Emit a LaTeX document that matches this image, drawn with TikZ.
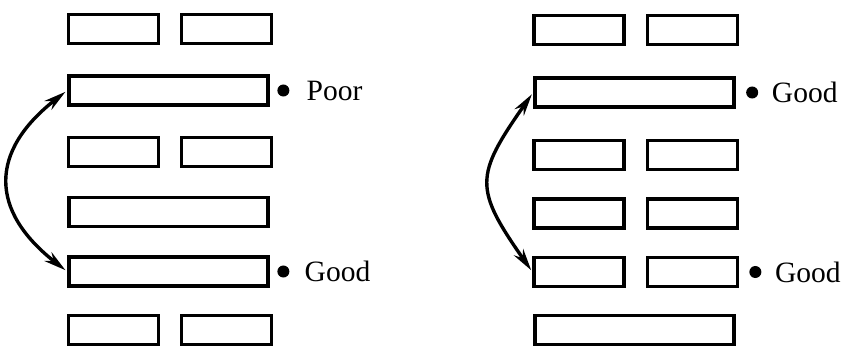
\documentclass[tikz,border=0pt]{standalone}
\usepackage{fontspec}
\setmainfont{Liberation Serif}
\usetikzlibrary{arrows.meta,positioning}

\begin{document}
\begin{tikzpicture}[x=0.025cm, y=0.025cm,
  linebar/.style={draw=black, line width=2.5pt, minimum height=0.72cm,
    inner sep=0pt, minimum width=#1},
  linebar/.default=4.98cm,
  halfbar/.style={linebar=2.24cm},
  dotmark/.style={circle, fill=black, inner sep=0pt, minimum size=0.3cm},
  marklabel/.style={inner sep=0pt, font=\fontsize{21}{25}\selectfont},
  swaparrow/.style={{Stealth[length=5.5mm,width=2.8mm]}-{Stealth[length=5.5mm,width=2.8mm]},
    line width=2.4pt, shorten <=1.5pt, shorten >=1.5pt}
]
\useasboundingbox (0,0) rectangle (843,-348);
% left hexagram
\node[halfbar] (left-1a) at (113.5,-29) {};
\node[halfbar] (left-1b) at (226.5,-29) {};
\node[linebar] (left-2) at (168.5,-90.5) {};
\node[halfbar] (left-3a) at (113.5,-152) {};
\node[halfbar] (left-3b) at (226.5,-152) {};
\node[linebar] (left-4) at (168.5,-212) {};
\node[linebar] (left-5) at (168.5,-271.5) {};
\node[halfbar] (left-6a) at (113.5,-330) {};
\node[halfbar] (left-6b) at (226.5,-330) {};
% right hexagram
\node[halfbar] (right-1a) at (579,-30) {};
\node[halfbar] (right-1b) at (692.5,-30) {};
\node[linebar] (right-2) at (634.5,-92.5) {};
\node[halfbar] (right-3a) at (579,-155) {};
\node[halfbar] (right-3b) at (692.5,-155) {};
\node[halfbar] (right-4a) at (579,-213.5) {};
\node[halfbar] (right-4b) at (692.5,-213.5) {};
\node[halfbar] (right-5a) at (579,-272) {};
\node[halfbar] (right-5b) at (692.5,-272) {};
\node[linebar] (right-6) at (634.5,-330) {};
% marks
\node[dotmark, right=0.18cm of left-2] (poor-dot) {};
\node[marklabel, right=0.42cm of poor-dot] (poor-text) {Poor};
\node[dotmark, right=0.18cm of left-5] (good-dot-a) {};
\node[marklabel, right=0.37cm of good-dot-a] (good-text-a) {Good};
\node[dotmark, right=0.25cm of right-2] (good-dot-b) {};
\node[marklabel, right=0.33cm of good-dot-b] (good-text-b) {Good};
\node[dotmark, right=0.25cm of right-5b] (good-dot-c) {};
\node[marklabel, right=0.33cm of good-dot-c] (good-text-c) {Good};
% exchanges
\draw[swaparrow] (left-2.west) to[out=218, in=142, looseness=1.4] (left-5.west);
\draw[swaparrow] (right-2.west) to[out=235, in=125, looseness=1.45] (right-5a.west);
\end{tikzpicture}
\end{document}
